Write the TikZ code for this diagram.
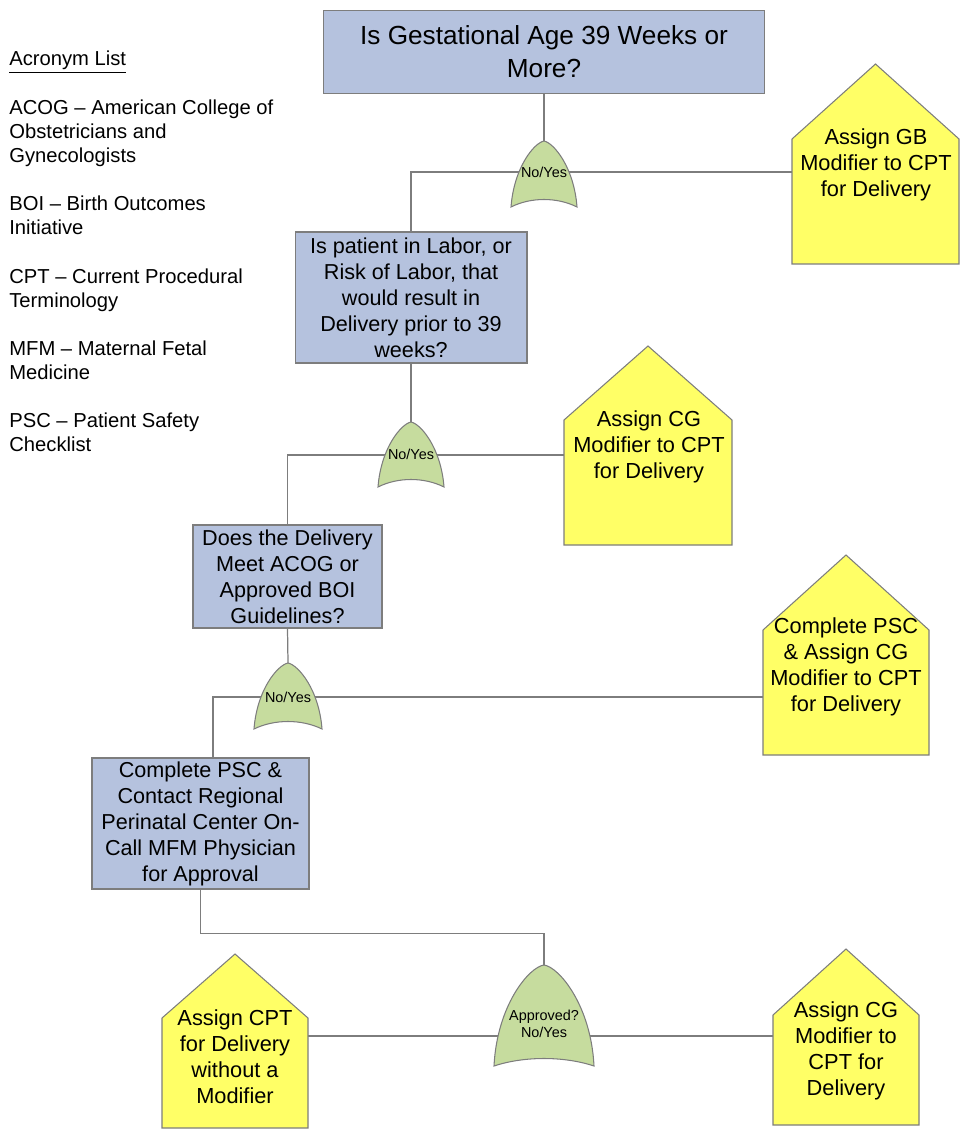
\documentclass[tikz,border=0pt]{standalone}
\usepackage{fontspec}
\setmainfont{Liberation Sans}
\usepackage{tikz}
\usetikzlibrary{calc,positioning}
\usepackage{xcolor}
\definecolor{boxblue}{RGB}{181,194,222}
\definecolor{gategreen}{RGB}{198,220,158}
\definecolor{houseyellow}{RGB}{255,255,102}
\definecolor{edgegray}{RGB}{125,125,125}

% OR-type decision gate: name, centre x, apex y, half width, height
\newcommand{\orgate}[5]{%
  \draw[gate] (#2-#4,#3+#5)
    .. controls (#2-#4+3,#3+#5*0.4) and (#2-#4*0.3,#3+2) .. (#2,#3)
    .. controls (#2+#4*0.3,#3+2) and (#2+#4-3,#3+#5*0.4) .. (#2+#4,#3+#5)
    .. controls (#2+#4*0.4,#3+#5-10) and (#2-#4*0.4,#3+#5-10) .. cycle;
  \coordinate (#1) at (#2,#3);}

% house shaped outcome: left x, right x, apex y, shoulder y, bottom y
\newcommand{\house}[5]{%
  \draw[housebox] (#1,#5) -- (#1,#4) -- ({(#1+#2)/2},#3) -- (#2,#4) -- (#2,#5) -- cycle;}

\begin{document}
\begin{tikzpicture}[x=0.02cm,y=-0.02cm]
        % Define the styles
        \tikzset{
          qbox/.style={draw=edgegray, fill=boxblue, line width=0.6pt, align=center,
            inner sep=0pt, font=\fontsize{12.3}{14.8}\selectfont},
          gate/.style={draw=edgegray, fill=gategreen, line width=0.6pt},
          gatetext/.style={inner sep=0pt, align=center, font=\fontsize{8.2}{9.5}\selectfont},
          housebox/.style={draw=edgegray, fill=houseyellow, line width=0.6pt},
          housetext/.style={inner sep=0pt, align=center, font=\fontsize{12.4}{14.8}\selectfont},
          link/.style={draw=edgegray, line width=0.7pt}
        }
        \useasboundingbox (0,0) rectangle (963,1131);

        % Acronym list
        \node (acro)[anchor=north west, inner sep=0pt, align=left,
          font=\fontsize{11.5}{13.6}\selectfont] at (9,51)
          {\underline{Acronym List}\\[14pt]
           ACOG -- American College of\\Obstetricians and\\Gynecologists\\[14pt]
           BOI -- Birth Outcomes\\Initiative\\[14pt]
           CPT -- Current Procedural\\Terminology\\[14pt]
           MFM -- Maternal Fetal\\Medicine\\[14pt]
           PSC -- Patient Safety\\Checklist};

        % Questions
        \node (q1)[qbox, minimum width=8.84cm, minimum height=1.66cm,
          font=\fontsize{14.9}{18.7}\selectfont] at (544,52)
          {Is Gestational Age 39 Weeks or\\More?};
        \node (q2)[qbox, minimum width=4.64cm, minimum height=2.62cm] at (411,297.5)
          {Is patient in Labor, or\\Risk of Labor, that\\would result in\\Delivery prior to 39\\weeks?};
        \node (q3)[qbox, minimum width=3.78cm, minimum height=2.06cm] at (287.5,576.5)
          {Does the Delivery\\Meet ACOG or\\Approved BOI\\Guidelines?};
        \node (q4)[qbox, minimum width=4.34cm, minimum height=2.62cm] at (200.5,823.5)
          {Complete PSC \&\\Contact Regional\\Perinatal Center On-\\Call MFM Physician\\for Approval};

        % Connection points on the outcomes
        \coordinate (h1w) at (792,172);
        \coordinate (h2w) at (564,455);
        \coordinate (h3w) at (763,697);
        \coordinate (h4e) at (308,1036);
        \coordinate (h5w) at (773,1036);
        \coordinate (q4top) at (213,758);

        % Connectors (drawn below the gates)
        \draw[link] (q1.south) -- (544,141);
        \draw[link] (q2.north) |- (h1w);
        \draw[link] (q2.south) -- (411,422);
        \draw[link] (q3.north) |- (h2w);
        \draw[link] (q3.south) -- (288,663);
        \draw[link] (q4top) |- (h3w);
        \draw[link] (q4.south) -- ++(0,44) -| (544,965);
        \draw[link] (h4e) -- (h5w);

        % Gates
        \orgate{g1}{544}{141}{33}{66}
        \orgate{g2}{411}{422}{33}{65}
        \orgate{g3}{288}{663}{34}{66}
        \orgate{g4}{544}{965}{50}{101}
        \node (g1t)[gatetext] at (544,172) {No/Yes};
        \node (g2t)[gatetext] at (411,454) {No/Yes};
        \node (g3t)[gatetext] at (288,697) {No/Yes};
        \node (g4t)[gatetext] at (544,1024) {Approved?\\No/Yes};

        % Outcomes
        \house{792}{959}{64}{139}{264}
        \house{564}{732}{346}{420}{545}
        \house{763}{929}{555}{630}{755}
        \house{162}{308}{954}{1018}{1128}
        \house{773}{919}{949}{1015}{1125}
        \node (h1)[housetext] at (876,165) {Assign GB\\Modifier to CPT\\for Delivery};
        \node (h2)[housetext] at (649,447) {Assign CG\\Modifier to CPT\\for Delivery};
        \node (h3)[housetext] at (846,667) {Complete PSC\\\& Assign CG\\Modifier to CPT\\for Delivery};
        \node (h4)[housetext] at (235,1057) {Assign CPT\\for Delivery\\without a\\Modifier};
        \node (h5)[housetext] at (846,1051) {Assign CG\\Modifier to\\CPT for\\Delivery};
    \end{tikzpicture}
\end{document}
